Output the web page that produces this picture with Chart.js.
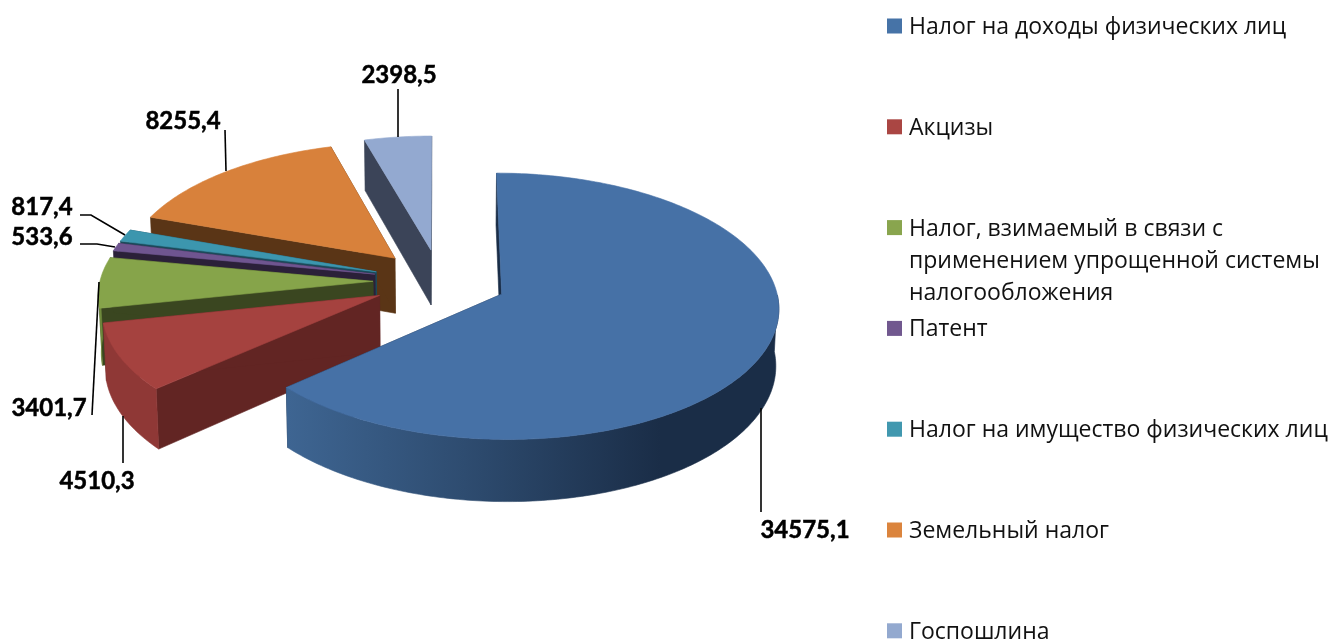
<!DOCTYPE html>
<html><head><meta charset="utf-8">
<style>html,body{margin:0;padding:0;background:#fff;overflow:hidden}canvas{display:block}</style>
<script src="https://cdn.jsdelivr.net/npm/chart.js@4"></script></head>
<body><canvas id="c" width="1330" height="642"></canvas>
<script>
const categories = ['Налог на доходы физических лиц','Акцизы','Налог, взимаемый в связи с применением упрощенной системы налогообложения','Патент','Налог на имущество физических лиц','Земельный налог','Госпошлина'];
const legendLines = [['Налог на доходы физических лиц'],['Акцизы'],['Налог, взимаемый в связи с','применением упрощенной системы','налогообложения'],['Патент'],['Налог на имущество физических лиц'],['Земельный налог'],['Госпошлина']];
const values = [34575.1,4510.3,3401.7,533.6,817.4,8255.4,2398.5];
const topColors = ['#4671A6','#A5423F','#86A44A','#6F5590','#3C96AE','#D8813B','#93A9D0'];
const cutColors = ['#1A2D47','#622523','#3A4620','#2B2039','#1B4A5A','#5A3516','#3B4458'];
const rimColors = ['#2F4D73','#8F3836','#6F8A3C','#4A3960','#2B6F80','#A3612B','#5F7196'];
const swatchColors = ['#4673A7','#AA4643','#89A54E','#71588F','#4198AF','#DB843D','#93A9CF'];
const drawOrder = [6,5,4,3,2,1,0];
const leaders = [
 {i:0,text:[805,530],line:[[761,512],[761,408]]},
 {i:1,text:[97,481],line:[[123,463],[123,416]]},
 {i:2,text:[49,408],line:[[92,415],[99,282]]},
 {i:3,text:[42,237],line:[[80,244],[97,244],[115,247]]},
 {i:4,text:[42,207],line:[[80,215],[91,215],[125,235]]},
 {i:5,text:[183,121],line:[[225,130],[226,171]]},
 {i:6,text:[399,75],line:[[398,89],[398,137]]}
];
const VIEW = {cy:281,k:0.475,persp:0.00033,height:56,taper:0.009};
const LEG = {x:887,tx:909,y0:26,step:100.8,lh:32,box:15};
const fmt = v => v.toFixed(1).replace('.',',');

function project(cx,u,v,z){
  const f = 1/(1 - v*VIEW.persp);
  const g = 1 - VIEW.taper*z/VIEW.height;
  return [cx + u*f*g, VIEW.cy + v*VIEW.k*f + z*f];
}
function poly(ctx,pts,fill){
  ctx.beginPath();
  pts.forEach((p,j)=> j?ctx.lineTo(p[0],p[1]):ctx.moveTo(p[0],p[1]));
  ctx.closePath();
  ctx.fillStyle=fill; ctx.strokeStyle=fill; ctx.lineWidth=0.6; ctx.lineJoin='round';
  ctx.fill(); ctx.stroke();
}
const pie3d = {
  id:'pie3d',
  beforeDatasetDraw(chart){
    const ctx = chart.ctx, meta = chart.getDatasetMeta(0);
    drawOrder.forEach(i=>{
      const arc = meta.data[i];
      const {x,startAngle:s,endAngle:e,outerRadius:R} = arc.getProps(['x','startAngle','endAngle','outerRadius'],true);
      const off = arc.options.offset, mid=(s+e)/2;
      const ax = Math.cos(mid)*off, ay = Math.sin(mid)*off;
      const P = (u,v,z)=>project(x,u,v,z);
      const n = Math.max(4,Math.ceil((e-s)*60));
      const rim = [], front = [];
      for(let j=0;j<=n;j++){
        const a=s+(e-s)*j/n, r=[ax+R*Math.cos(a),ay+R*Math.sin(a)];
        rim.push(r);
        if(Math.sin(a)>=0) front.push(r);
      }
      const H = VIEW.height;
      ctx.save();
      [rim[0],rim[n]].forEach(r=>{
        poly(ctx,[P(ax,ay,0),P(r[0],r[1],0),P(r[0],r[1],H),P(ax,ay,H)],cutColors[i]);
      });
      if(front.length>1){
        const wall = front.map(r=>P(r[0],r[1],0)).concat(front.slice().reverse().map(r=>P(r[0],r[1],H)));
        let fill = rimColors[i];
        if(i===0){
          const g = ctx.createLinearGradient(288,0,680,0);
          g.addColorStop(0,'#3E6592'); g.addColorStop(0.45,'#2E4C70'); g.addColorStop(0.95,'#1A2D47'); g.addColorStop(1,'#1A2D47');
          fill = g;
        }
        poly(ctx,wall,fill);
      }
      poly(ctx,[P(ax,ay,0)].concat(rim.map(r=>P(r[0],r[1],0))),topColors[i]);
      ctx.restore();
    });
    return false;
  },
  afterDraw(chart){
    const ctx = chart.ctx;
    ctx.save();
    ctx.strokeStyle='#000'; ctx.lineWidth=1.6; ctx.fillStyle='#000';
    ctx.textAlign='center'; ctx.textBaseline='middle';
    ctx.font='bold 24px Lato, "Open Sans", sans-serif';
    leaders.forEach(l=>{
      ctx.lineWidth=1.6;
      ctx.beginPath();
      l.line.forEach((p,j)=> j?ctx.lineTo(p[0],p[1]):ctx.moveTo(p[0],p[1]));
      ctx.stroke();
      ctx.fillText(fmt(values[l.i]),l.text[0],l.text[1]);
      ctx.lineWidth=0.5;
      ctx.strokeText(fmt(values[l.i]),l.text[0],l.text[1]);
    });
    ctx.textAlign='left';
    ctx.font='23px "Open Sans", sans-serif';
    legendLines.forEach((lines,i)=>{
      const yy = LEG.y0 + LEG.step*i;
      ctx.fillStyle=swatchColors[i];
      ctx.fillRect(LEG.x,yy-LEG.box/2,LEG.box,LEG.box);
      ctx.fillStyle='#111';
      lines.forEach((t,j)=>ctx.fillText(t,LEG.tx,yy+1.5+j*LEG.lh));
    });
    ctx.restore();
  }
};
new Chart(document.getElementById('c'),{
  type:'pie',
  data:{labels:categories,datasets:[{data:values,backgroundColor:topColors,offset:67,borderWidth:0}]},
  options:{
    responsive:false,animation:false,rotation:0,
    layout:{padding:{left:2,right:452,top:14.5,bottom:14.5}},
    plugins:{legend:{display:false},tooltip:{enabled:false}}
  },
  plugins:[pie3d]
});
</script></body></html>
